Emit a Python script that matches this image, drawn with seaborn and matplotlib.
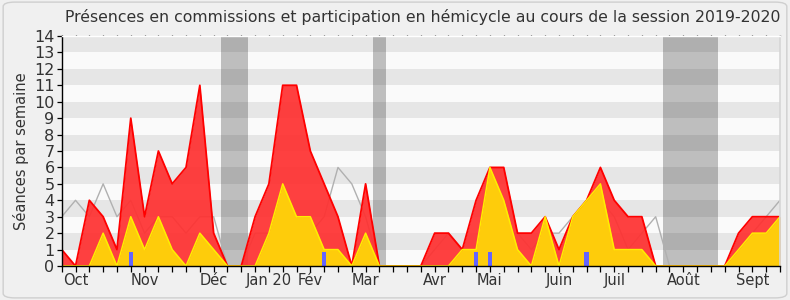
import matplotlib
matplotlib.use("Agg")
import matplotlib.pyplot as plt
import seaborn as sns
import pandas as pd
from matplotlib.patches import FancyBboxPatch

# ---------------- data ----------------
weeks = list(range(53))
presences = [1, 0, 4, 3, 1, 9, 3, 7, 5, 6, 11, 2, 0, 0, 3, 5, 11, 11, 7, 5,
             3, 0, 5, 0, 0, 0, 0, 2, 2, 1, 4, 6, 6, 2, 2, 3, 1, 3, 4, 6,
             4, 3, 3, 0, 0, 0, 0, 0, 0, 2, 3, 3, 3]
participations = [0, 0, 0, 2, 0, 3, 1, 3, 1, 0, 2, 1, 0, 0, 0, 2, 5, 3, 3, 1,
                  1, 0, 2, 0, 0, 0, 0, 0, 0, 1, 1, 6, 4, 1, 0, 3, 0, 3, 4, 5,
                  1, 1, 1, 0, 0, 0, 0, 0, 0, 1, 2, 2, 3]
mediane = [3, 4, 3, 5, 3, 4, 2, 3, 3, 2, 3, 3, 0, 0, 2, 2, 2, 3, 2, 3,
           6, 5, 3, 0, 0, 0, 0, 1, 2, 1, 1, 2, 2, 2, 1, 2, 2, 3, 4, 4,
           3, 1, 2, 3, 0, 0, 0, 0, 0, 1, 2, 3, 4]
question_weeks = [5, 19, 30, 31, 38]
question_vals = [0.88, 0.88, 0.88, 0.88, 0.88]
vacances_start = [11.5, 22.5, 43.5]
vacances_end = [13.5, 23.5, 47.5]
month_pos = [1, 6, 11, 15, 18, 22, 27, 31, 36, 40, 45, 50]
month_labels = ["Oct", "Nov", "Déc", "Jan 20", "Fév", "Mar", "Avr", "Mai",
                "Juin", "Juil", "Août", "Sept"]
title = ("Présences en commissions et participation en hémicycle "
         "au cours de la session 2019-2020")
ylabel = "Séances par semaine"

df = pd.DataFrame({"semaine": weeks, "presences": presences,
                   "participations": participations, "mediane": mediane})

# ---------------- style ----------------
sns.set_theme(style="white")
plt.rcParams["font.family"] = ["DejaVu Sans"]
txt = "#333333"

fig = plt.figure(figsize=(7.9, 3.0), dpi=100, facecolor="#f0f0f0")
border = FancyBboxPatch((0.004, 0.007), 0.992, 0.986,
                        boxstyle="round,pad=0,rounding_size=0.015",
                        transform=fig.transFigure, fc="#f0f0f0",
                        ec="#cfcfcf", lw=1.0, zorder=-10)
fig.patches.append(border)

ax = fig.add_axes([61.7 / 790, 34 / 300, (780 - 61.7) / 790, 230 / 300])
ax.set_facecolor("#fafafa")

# vacation bands
for s, e in zip(vacances_start, vacances_end):
    ax.axvspan(s, e, color="#bebebe", lw=0, zorder=0.5)
# horizontal stripes
for k in range(1, 14, 2):
    ax.axhspan(k, k + 1, color="black", alpha=0.08, lw=0, zorder=0.6)

# median line
sns.lineplot(data=df, x="semaine", y="mediane", ax=ax, color="#b0b0b0",
             lw=1.0, zorder=1.5)

# presences (red)
ax.fill_between(df["semaine"], df["presences"], color="#ff3030",
                alpha=0.92, lw=0, zorder=2)
sns.lineplot(data=df, x="semaine", y="presences", ax=ax, color="#ff0000",
             lw=1.3, zorder=2.1)

# participations (yellow)
ax.fill_between(df["semaine"], df["participations"], color="#ffd20a",
                alpha=0.97, lw=0, zorder=3)
sns.lineplot(data=df, x="semaine", y="participations", ax=ax,
             color="#ffee00", lw=1.1, zorder=3.1)

# questions (blue bars)
ax.bar(question_weeks, question_vals, width=0.32, color="#6464ff",
       lw=0, zorder=4)

# ---------------- axes ----------------
ax.set_xlim(0, 52)
ax.set_ylim(0, 14)
ax.set_yticks(range(15))
ax.set_yticklabels([str(v) for v in range(15)], fontsize=11.5, color=txt)
ax.xaxis.remove_overlapping_locs = False
ax.set_xticks(weeks, minor=True)
ax.set_xticks(month_pos)
ax.set_xticklabels(month_labels, fontsize=10.5, color=txt)
ax.tick_params(axis="x", which="major", length=0, pad=5)
ax.tick_params(axis="x", which="minor", length=4.5, width=0.9,
               color="black", bottom=True, top=False, direction="out")
ax.tick_params(axis="y", which="major", length=3.6, width=0.9,
               color="black", left=True, pad=1.5)
ax.set_xlabel("")
ax.set_ylabel(ylabel, fontsize=10.5, color=txt, labelpad=4)

# small dots above the plot for every week (secondary axis ticks)
top = ax.secondary_xaxis("top")
top.set_xticks(weeks)
top.set_xticklabels([])
top.tick_params(length=1.0, width=0.9, color="#222222", direction="out",
                pad=0)
top.spines["top"].set_visible(False)

for side in ["left", "bottom"]:
    ax.spines[side].set_color("black")
    ax.spines[side].set_linewidth(1.0)
ax.spines["top"].set_color("#ffffff")
ax.spines["top"].set_linewidth(1.0)
ax.spines["right"].set_color("#d6d6d6")
ax.spines["right"].set_linewidth(1.2)
for sp in ax.spines.values():
    sp.set_zorder(5)

fig.text(0.535, 0.943, title, ha="center", va="center", fontsize=11.3,
         color=txt)

fig.savefig("out.png", dpi=100, facecolor=fig.get_facecolor())
